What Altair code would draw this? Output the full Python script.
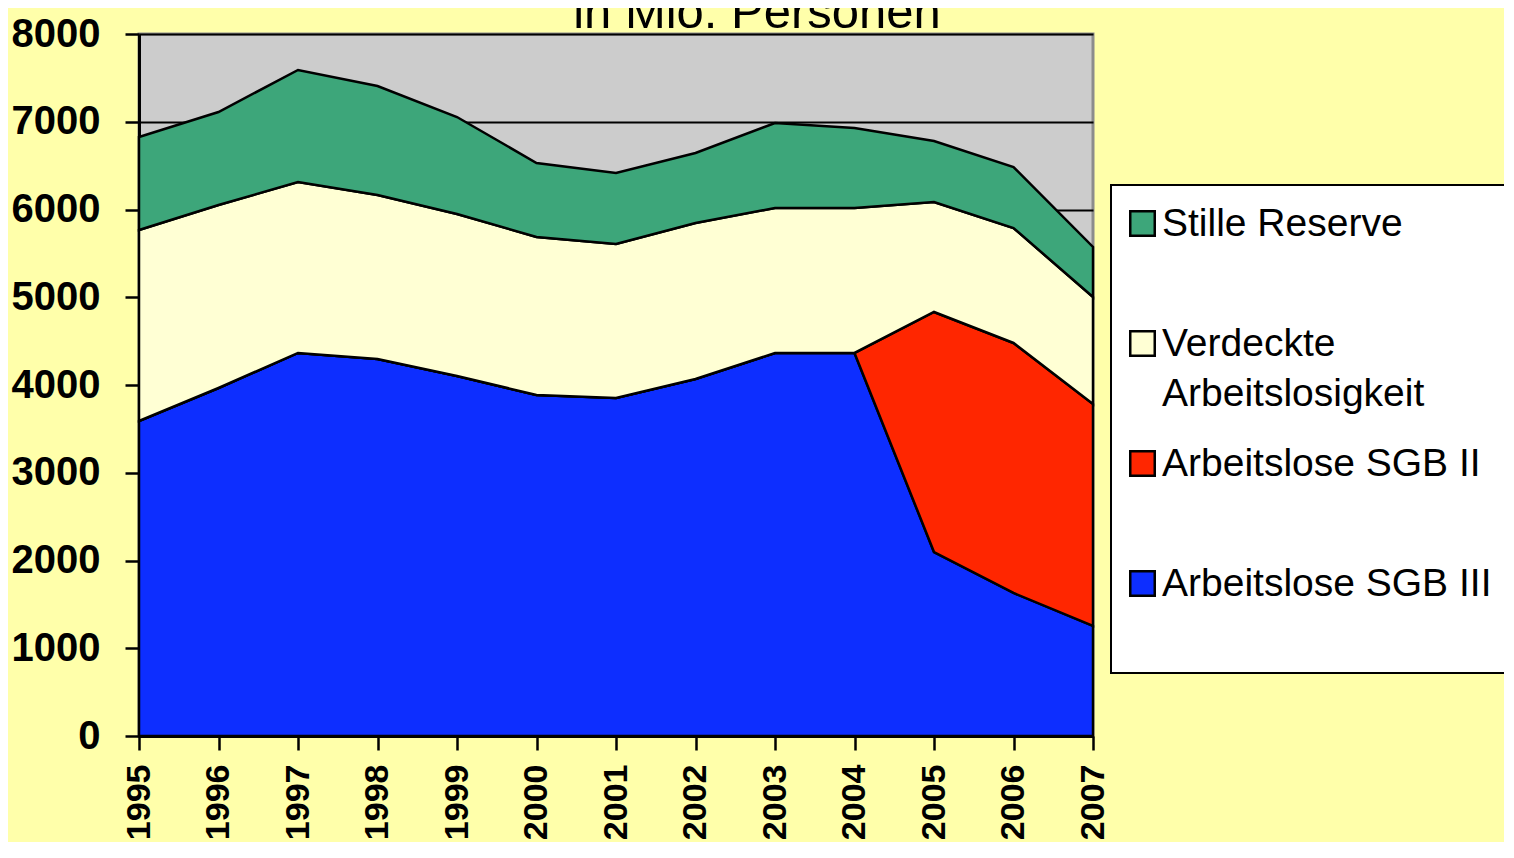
import altair as alt
import pandas as pd

# --- data (thousands of persons) ---
years = [1995, 1996, 1997, 1998, 1999, 2000, 2001, 2002, 2003, 2004, 2005, 2006, 2007]
sgb3 = [3590, 3966, 4365, 4296, 4103, 3886, 3852, 4068, 4365, 4365, 2097, 1630, 1254]
sgb2 = [0, 0, 0, 0, 0, 0, 0, 0, 0, 0, 2735, 2849, 2529]
verdeckt = [2176, 2085, 1948, 1869, 1846, 1801, 1755, 1778, 1652, 1652, 1253, 1310, 1220]
stille = [1060, 1060, 1277, 1242, 1105, 843, 809, 798, 969, 912, 696, 695, 570]

series = ["Arbeitslose SGB III", "Arbeitslose SGB II", "Verdeckte Arbeitslosigkeit", "Stille Reserve"]
legend_order = ["Stille Reserve", "Verdeckte Arbeitslosigkeit", "Arbeitslose SGB II", "Arbeitslose SGB III"]
legend_colors = ["#3DA67A", "#FFFFD4", "#FF2600", "#0D2EFF"]
y_ticks = [0, 1000, 2000, 3000, 4000, 5000, 6000, 7000, 8000]
title_text = ["in Mio. Personen"]

rows = []
for order, (name, vals) in enumerate(zip(series, [sgb3, sgb2, verdeckt, stille])):
    for yr, v in zip(years, vals):
        rows.append({"Jahr": yr, "Gruppe": name, "Wert": v, "Stapel": order})
df = pd.DataFrame(rows)

areas = alt.Chart(df).mark_area(
    stroke="black", strokeWidth=2.5, opacity=1, strokeJoin="miter"
).encode(
    x=alt.X(
        "Jahr:Q",
        scale=alt.Scale(domain=[1995, 2007], nice=False, zero=False),
        axis=alt.Axis(
            values=years, format="d", title=None, grid=False,
            labelAngle=270, labelAlign="right", labelBaseline="middle",
            labelPadding=14, tickSize=14, labelFontSize=34,
        ),
    ),
    y=alt.Y(
        "Wert:Q",
        stack="zero",
        scale=alt.Scale(domain=[0, 8000], nice=False),
        axis=alt.Axis(
            values=y_ticks, format="d", title=None, grid=True,
            gridColor="black", gridWidth=2, labelPadding=25, tickSize=14,
            labelFontSize=40,
        ),
    ),
    color=alt.Color(
        "Gruppe:N",
        scale=alt.Scale(domain=legend_order, range=legend_colors),
        legend=alt.Legend(
            title=None,
            orient="none", legendX=972, legendY=151,
            symbolType="square", symbolSize=600, symbolStrokeColor="black",
            symbolStrokeWidth=2.5, symbolOpacity=1, symbolOffset=-7,
            labelFont="Liberation Sans", labelFontSize=39, labelColor="black",
            labelLimit=600, labelOffset=0,
            labelExpr="datum.label == 'Verdeckte Arbeitslosigkeit' ? ['Verdeckte', 'Arbeitslosigkeit'] : [datum.label, '']",
            rowPadding=30, padding=19, fillColor="white", strokeColor="black",
            direction="vertical",
        ),
    ),
    order=alt.Order("Stapel:Q", sort="ascending"),
)

# chart heading, centred on the full picture width (partly cropped at the top like the reference)
heading = alt.Chart(pd.DataFrame({"t": title_text})).mark_text(
    font="Liberation Sans", fontSize=49, color="black", align="center",
    baseline="alphabetic",
).encode(
    text="t:N",
    x=alt.value(618),
    y=alt.value(-6),
)

chart = alt.layer(areas, heading).properties(
    width=954,
    height=702,
    autosize=alt.AutoSizeParams(type="none"),
    padding={"left": 131, "top": 26, "right": 411, "bottom": 106},
    background="#FFFFAA",
).configure(
    style={"guide-label": {"lineHeight": 50}}
).configure_view(
    fill="#CCCCCC", stroke="#8C8C8C", strokeWidth=3
).configure_axis(
    domainColor="black", domainWidth=3, tickColor="black", tickWidth=2.5,
    labelFont="Liberation Sans", labelFontWeight="bold",
    labelColor="black",
).configure_legend(
    strokeWidth=2
)

chart.save("out.html", embed_options={"renderer": "svg", "actions": False})
